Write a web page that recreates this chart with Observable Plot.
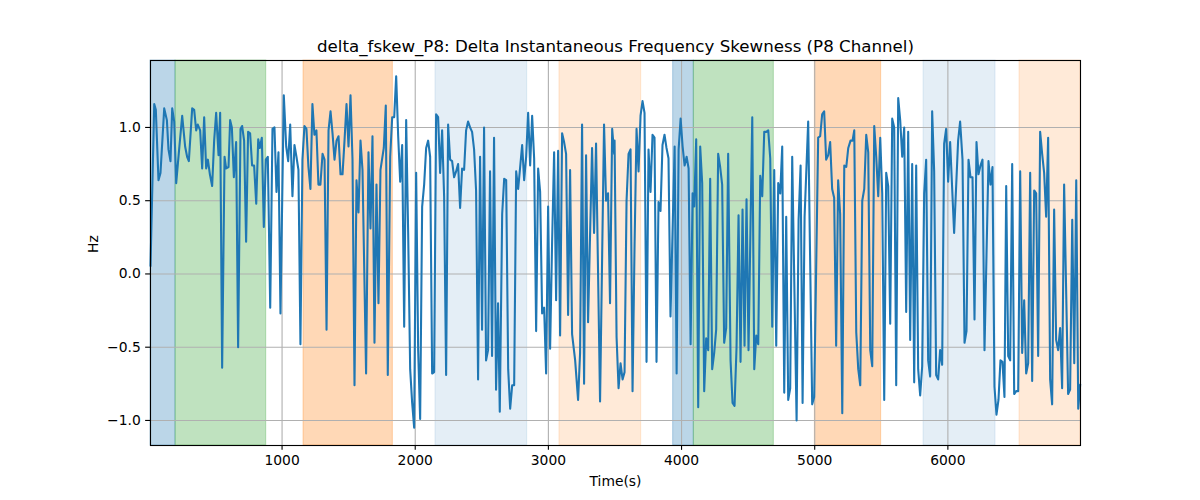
<!DOCTYPE html>
<html>
<head>
<meta charset="utf-8">
<script src="https://cdn.jsdelivr.net/npm/d3@7"></script>
<script src="https://cdn.jsdelivr.net/npm/@observablehq/plot@0.6"></script>
<style>
  html, body { margin: 0; padding: 0; background: white; }
  #chart svg { display: block; }
</style>
</head>
<body>
<div id="chart"></div>
<script>
const titleText = "delta_fskew_P8: Delta Instantaneous Frequency Skewness (P8 Channel)";
const xLabel = "Time(s)";
const yLabel = "Hz";
const xTicks = [1000, 2000, 3000, 4000, 5000, 6000];
const yTicks = [-1.0, -0.5, 0.0, 0.5, 1.0];

const spanStart = [12, 200, 1161, 2152, 3083, 3937, 4092, 5001, 5817, 6538];
const spanEnd   = [200, 881, 1832, 2841, 3697, 4092, 4693, 5499, 6358, 6996];
const spanKind  = ["blue", "green", "orange", "lightblue", "lightorange", "blue", "green", "orange", "lightblue", "lightorange"];

const times = [
  12,40,52,72,87,115,135,147,162,175,190,205,227,250,272,287,300,325,340,355,367,385,400,415,430,443,458,475,490,505,523,535,550,568,580,598,610,623,638,655,670,688,700,715,730,745,760,775,790,806,821,833,848,863,878,893,
  911,928,943,958,973,988,1013,1031,1046,1061,1078,1093,1108,1123,1138,1153,1168,1183,1198,1213,1228,1243,1258,1273,1288,1304,1319,1334,1349,1364,1379,1394,1409,1424,1439,1454,1469,1484,1499,1514,1529,1544,1559,1574,1589,1604,1631,1649,1664,1679,1694,1709,1724,1739,
  1764,1779,1794,1812,1827,1842,1857,1872,1887,1902,1917,1932,1947,1962,1977,1992,2007,2022,2037,2052,2067,2082,2097,2112,2127,2142,2157,2172,2187,2202,2217,2232,2247,2262,2277,2292,2307,2322,2337,2352,2367,2382,2397,2412,2427,2442,2457,2472,2487,2502,2517,2532,2547,2562,2577,2592,2607,2622,2635,
  2653,2668,2683,2698,2713,2728,2743,2758,2773,2788,2803,2818,2833,2848,2863,2878,2893,2908,2923,2938,2953,2968,2983,2998,3013,3028,3043,3058,3073,3088,3103,3118,3133,3148,3163,3178,3201,3223,3238,3253,3268,3283,3298,3328,3343,3358,3388,3418,3433,3448,3463,3479,3494,
  3497,3512,3527,3542,3557,3572,3587,3602,3617,3632,3647,3662,3677,3692,3707,3722,3737,3752,3767,3782,3797,3812,3827,3842,3857,3872,3887,3902,3917,3948,3963,3978,3993,4008,4023,4038,4053,4068,4083,4095,4110,4125,4140,4155,4170,4185,4200,4215,4230,4245,4260,4275,4290,4305,4320,4335,4350,
  4368,4383,4398,4413,4428,4443,4458,4473,4488,4503,4531,4546,4561,4576,4591,4606,4621,4636,4651,4666,4681,4696,4711,4726,4741,4756,4771,4786,4801,4816,4831,4864,4879,4894,4909,4924,4951,4981,4996,5026,5041,5056,5071,5086,5101,5116,5131,5146,5161,5176,5191,5207,5222,5237,5252,
  5269,5284,5297,5312,5327,5342,5357,5372,5387,5402,5417,5432,5447,5462,5477,5492,5507,5522,5537,5552,5567,5582,5597,5612,5627,5642,5657,5672,5687,5702,5717,5732,5747,5762,5777,5792,5807,5822,5837,5852,5867,5882,5897,5912,5927,5942,5957,5972,5987,6002,6017,6047,6077,6092,
  6110,6125,6140,6155,6170,6185,6200,6215,6230,6245,6260,6275,6305,6320,6335,6350,6365,6380,6395,6410,6425,6438,6453,6468,6483,6498,6513,6528,6543,6558,6573,6588,6603,6618,6633,6648,6663,6678,6693,6708,6723,6738,6753,6768,6783,6798,6813,6828,6843,6858,6873,6903,6918,6934,6949,6964,6979,6994
];
const values = [
  0.05,1.16,1.12,0.64,0.69,1.13,1.05,0.85,0.77,1.13,1.04,0.62,0.85,1.08,0.87,0.80,0.77,1.13,1.12,0.98,1.02,0.98,0.72,1.07,0.72,0.78,0.68,0.60,0.91,1.10,0.81,1.10,-0.64,0.80,0.72,0.73,1.05,1.00,0.66,0.90,-0.50,0.99,1.01,0.91,0.22,0.97,0.96,0.74,0.74,0.48,0.92,0.86,0.93,0.32,0.78,0.80,
  -0.23,0.99,1.00,0.56,0.83,-0.27,1.22,0.87,0.77,1.02,0.53,0.88,0.80,0.71,-0.48,0.78,1.01,0.99,0.73,0.58,1.16,0.95,0.98,0.61,0.61,0.82,0.78,-0.38,0.98,1.11,0.96,0.78,0.91,0.94,0.68,0.68,0.91,1.16,0.87,1.22,0.78,-0.76,0.64,0.42,0.91,0.71,-0.68,0.83,0.31,0.94,-0.47,0.61,-0.20,0.71,
  0.86,1.15,-0.69,0.80,1.07,1.07,1.35,0.94,0.63,0.88,-0.36,1.05,0.28,-0.65,-0.88,-1.05,0.69,-0.52,-0.99,0.46,0.61,0.86,0.91,0.80,-0.68,-0.67,1.09,1.07,0.69,0.98,0.53,-0.69,1.02,0.78,0.77,0.66,0.70,0.75,0.45,0.72,0.71,0.98,1.04,1.00,0.97,0.85,0.57,-0.72,0.80,-0.38,1.00,-0.59,-0.52,0.70,-0.56,0.93,-0.79,-0.20,-0.94,
  0.41,0.65,0.64,-0.65,-0.92,-0.76,-0.76,0.70,0.58,0.73,0.88,0.64,0.80,1.10,0.74,1.08,0.79,-0.39,0.72,0.56,-0.27,-0.23,-0.68,0.46,-0.51,0.22,0.83,-0.18,0.84,-0.42,0.96,0.90,0.82,-0.28,0.71,-0.41,-0.59,-0.86,-0.54,1.02,-0.75,0.81,-0.33,0.86,0.28,0.89,-0.87,1.02,0.50,0.55,-0.20,0.99,0.82,
  0.91,-0.43,-0.78,-0.61,-0.72,-0.67,0.50,0.82,0.85,-0.80,0.19,0.99,0.70,1.08,1.18,1.10,-0.60,0.85,0.56,0.95,0.93,-0.60,0.49,0.43,0.88,0.95,0.86,0.79,-0.29,0.87,-0.68,0.85,1.06,0.87,0.74,0.80,0.72,-0.48,0.55,0.46,0.92,-0.91,0.87,0.62,-0.80,-0.44,-0.52,0.65,-0.65,-0.54,-0.38,0.82,0.73,0.61,-0.47,-0.37,0.82,
  -0.59,-0.88,-0.90,-0.50,0.40,-0.60,0.44,-0.49,0.51,-0.52,1.07,-0.65,-0.42,-0.48,0.67,0.53,0.97,0.97,0.98,0.79,-0.36,0.71,-0.49,0.62,0.55,0.87,-0.81,0.39,-0.86,-0.78,0.80,-1.00,0.37,0.74,-0.88,0.39,1.04,-0.89,-0.84,0.93,0.94,1.09,1.11,0.78,0.81,0.90,0.58,0.52,-0.49,0.64,0.41,-0.95,0.74,0.73,0.86,
  0.91,0.91,0.98,-0.40,-0.65,-0.76,0.50,0.58,0.95,0.83,-0.52,-0.63,1.01,0.80,0.53,0.93,0.55,-0.86,0.69,0.60,-0.34,1.06,1.00,-0.76,1.20,1.05,0.80,1.00,-0.26,0.97,-0.45,0.75,-0.74,0.74,-0.65,-0.83,-0.63,0.55,0.78,-0.59,-0.70,1.11,0.70,-0.69,-0.72,-0.52,-0.62,0.89,0.99,0.63,0.90,0.28,0.91,1.04,
  0.78,-0.47,-0.39,0.78,0.66,0.66,-0.31,0.90,0.68,0.74,0.78,-0.52,0.77,0.61,0.73,-0.77,-0.96,-0.86,-0.59,-0.60,-0.84,0.60,-0.56,-0.59,0.75,-0.82,-0.80,-0.80,0.70,-0.54,-0.18,-0.68,-0.61,0.69,-0.73,0.57,0.55,-0.56,0.97,0.82,0.69,0.39,0.93,-0.72,-0.89,0.44,-0.45,-0.52,-0.37,-0.78,0.61,-0.82,-0.79,0.37,-0.61,0.64,-0.92,-0.75
];

// styles for span kinds
const spanStyle = {
  blue:        {fill: "#1f77b4", opacity: 0.3},
  lightblue:   {fill: "#1f77b4", opacity: 0.12},
  green:       {fill: "#2ca02c", opacity: 0.3},
  orange:      {fill: "#ff7f0e", opacity: 0.3},
  lightorange: {fill: "#ff7f0e", opacity: 0.16}
};

const spans = spanStart.map((s, i) => ({start: s, end: spanEnd[i], kind: spanKind[i]}));
const series = times.map((t, i) => ({t, v: values[i]}));

const PT = 100 / 72;
const font = "DejaVu Sans, sans-serif";

const chart = Plot.plot({
  width: 1200,
  height: 500,
  marginLeft: 150,
  marginRight: 120,
  marginTop: 60,
  marginBottom: 55,
  style: {fontFamily: font, fontSize: (10 * PT) + "px", color: "black", background: "white"},
  x: {domain: [12, 6996], label: null},
  y: {domain: [-1.171, 1.457], label: null},
  marks: [
    Plot.rect(spans, {
      x1: "start", x2: "end",
      fill: d => spanStyle[d.kind].fill,
      fillOpacity: d => spanStyle[d.kind].opacity,
      stroke: d => spanStyle[d.kind].fill,
      strokeOpacity: d => spanStyle[d.kind].opacity,
      strokeWidth: 1
    }),
    Plot.gridX(xTicks, {stroke: "#b0b0b0", strokeOpacity: 1, strokeWidth: 0.8 * PT}),
    Plot.gridY(yTicks, {stroke: "#b0b0b0", strokeOpacity: 1, strokeWidth: 0.8 * PT}),
    Plot.line(series, {x: "t", y: "v", stroke: "#1f77b4", strokeWidth: 1.5 * PT, strokeLinejoin: "round", strokeLinecap: "butt"}),
    Plot.frame({stroke: "black", strokeWidth: 0.8 * PT}),
    Plot.axisX(xTicks, {tickSize: 3.5 * PT, tickPadding: 3.5 * PT, strokeWidth: 0.8 * PT, tickFormat: d => String(d), label: null, fontSize: 10 * PT}),
    Plot.axisY(yTicks, {tickSize: 3.5 * PT, tickPadding: 3.5 * PT, strokeWidth: 0.8 * PT, tickFormat: d3.format(".1f"), label: null, fontSize: 10 * PT}),
    Plot.text([titleText], {frameAnchor: "top", dy: -8.5, lineAnchor: "bottom", fontSize: 12 * PT, fill: "black"}),
    Plot.text([xLabel], {frameAnchor: "bottom", dy: 36, lineAnchor: "middle", fontSize: 10 * PT, fill: "black"}),
    Plot.text([yLabel], {frameAnchor: "left", dx: -57, rotate: -90, lineAnchor: "middle", fontSize: 10 * PT, fill: "black"})
  ]
});
document.getElementById("chart").appendChild(chart);
</script>
</body>
</html>
